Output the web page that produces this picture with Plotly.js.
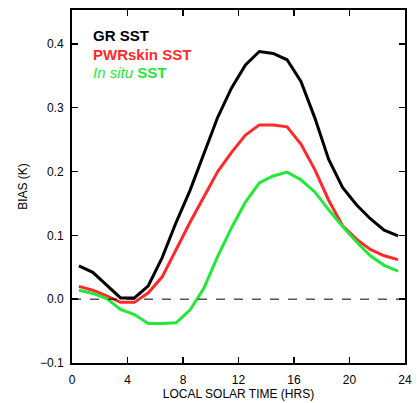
<!DOCTYPE html>
<html>
<head>
<meta charset="utf-8">
<script src="https://cdn.plot.ly/plotly-3.0.1.min.js"></script>
<style>html,body{margin:0;padding:0;background:#fff;}#chart{width:417px;height:403px;}</style>
</head>
<body>
<div id="chart"></div>
<script>
const hours = [0.5,1.5,2.5,3.5,4.5,5.5,6.5,7.5,8.5,9.5,10.5,11.5,12.5,13.5,14.5,15.5,16.5,17.5,18.5,19.5,20.5,21.5,22.5,23.5];
const grSST = [0.052,0.042,0.022,0.002,0.002,0.021,0.065,0.12,0.17,0.226,0.285,0.331,0.367,0.388,0.385,0.375,0.341,0.284,0.219,0.175,0.148,0.126,0.108,0.099];
const pwrSkinSST = [0.020,0.014,0.005,-0.005,-0.005,0.010,0.035,0.078,0.120,0.160,0.200,0.230,0.257,0.273,0.273,0.270,0.243,0.203,0.155,0.115,0.094,0.078,0.068,0.062];
const inSituSST = [0.014,0.009,0.001,-0.016,-0.024,-0.038,-0.038,-0.037,-0.017,0.017,0.067,0.112,0.152,0.182,0.193,0.199,0.187,0.168,0.140,0.114,0.090,0.068,0.053,0.044];
const seriesNames = ['GR SST','PWRskin SST','<i>In situ</i> SST'];
const seriesColors = ['#000000','#ff2a2a','#22e83a'];
const xTicks = [0,4,8,12,16,20,24];
const yTicks = [-0.1,0,0.1,0.2,0.3,0.4];
const yTickText = ['\u22120.1','0.0','0.1','0.2','0.3','0.4'];

const series = [grSST, pwrSkinSST, inSituSST];
const traces = series.map((ys,i)=>({
  x: hours, y: ys, type:'scatter', mode:'lines', name: seriesNames[i],
  line:{color: seriesColors[i], width:3}, showlegend:false
}));

const annotations = seriesNames.map((n,i)=>({
  xref:'paper', yref:'paper', x:0.058, y:0.928 - i*0.053,
  xanchor:'left', yanchor:'middle', showarrow:false,
  text: i===2 ? '<i>In situ</i> <b>SST</b>' : '<b>'+n+'</b>',
  font:{family:'Liberation Sans, Arial, sans-serif', size:15, color: seriesColors[i]}
}));

const layout = {
  width:417, height:403,
  margin:{l:72, r:12, t:10, b:40},
  paper_bgcolor:'#fff', plot_bgcolor:'#fff',
  font:{family:'Liberation Sans, Arial, sans-serif', size:12, color:'#000'},
  xaxis:{
    range:[0,24], tickvals:xTicks, ticktext:xTicks.map(String),
    ticks:'inside', ticklen:6, tickwidth:1.5, tickcolor:'#000',
    showline:true, linecolor:'#000', linewidth:2, mirror:'ticks',
    showgrid:false, zeroline:false, ticklabelstandoff:5,
    title:{text:'LOCAL SOLAR TIME (HRS)', font:{size:12}, standoff:3}
  },
  yaxis:{
    range:[-0.1,0.453], tickvals:yTicks, ticktext:yTickText,
    ticks:'inside', ticklen:6, tickwidth:1.5, tickcolor:'#000',
    showline:true, linecolor:'#000', linewidth:2, mirror:'ticks',
    showgrid:false, zeroline:false, ticklabelstandoff:4,
    title:{text:'BIAS (K)', font:{size:12}, standoff:10}
  },
  shapes:[{type:'line', xref:'paper', x0:0, x1:1, yref:'y', y0:0, y1:0,
    line:{color:'#000', width:1, dash:'dash'}}],
  annotations: annotations
};
Plotly.newPlot('chart', traces, layout, {displayModeBar:false, staticPlot:true});
</script>
</body>
</html>
